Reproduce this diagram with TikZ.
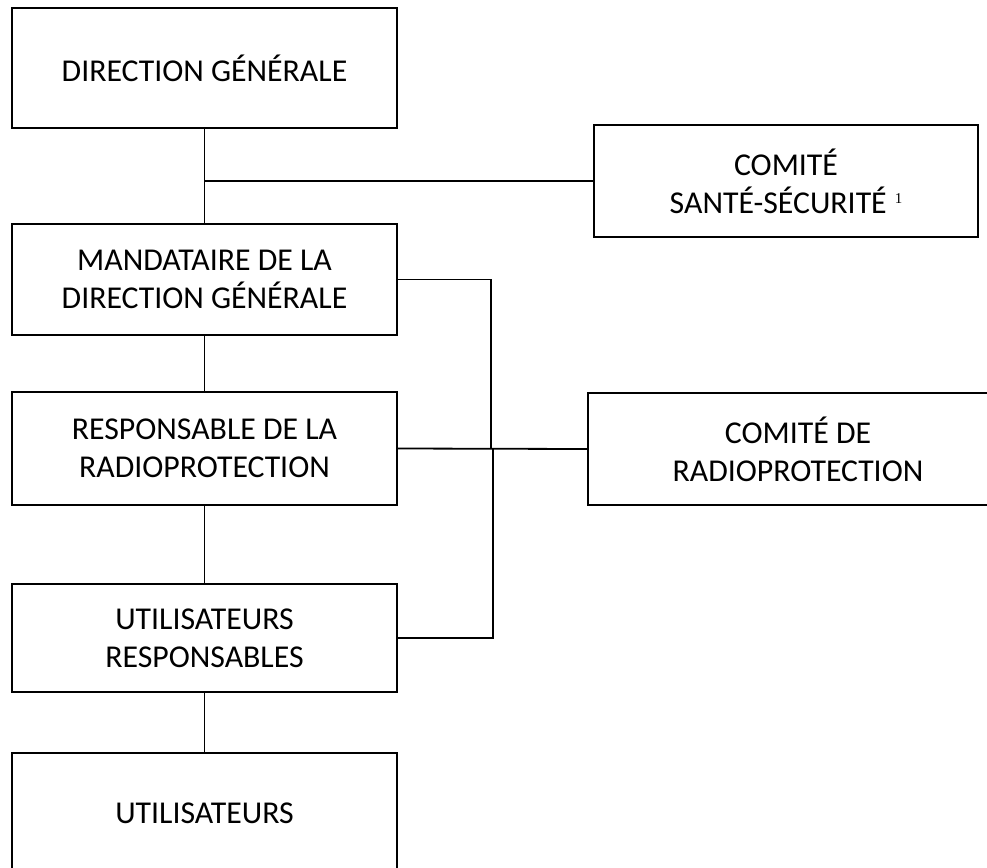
\documentclass[tikz,border=0pt]{standalone}
\usepackage{fontspec}
\setmainfont{Carlito}
\newfontfamily\notefont{Liberation Serif}
\begin{document}
\begin{tikzpicture}[x=1pt, y=-1pt, line width=1.8pt,
    box/.style={draw, line width=1.8pt, align=center, inner sep=0pt, minimum width=385pt, font=\fontsize{31.8}{38}\selectfont}]
    \useasboundingbox (0,0) rectangle (987,867);

    \node[box, minimum height=120pt] (dg) at (204.5,68) {DIRECTION GÉNÉRALE};
    \node[box, minimum width=384pt, minimum height=112pt] (css) at (786,181) {COMITÉ\\SANTÉ-SÉCURITÉ\hspace{8pt}\smash{\raisebox{10pt}{\notefont\fontsize{15}{15}\selectfont 1}}};
    \node[box, minimum height=111pt] (mdg) at (204.5,279.5) {MANDATAIRE DE LA\\DIRECTION GÉNÉRALE};
    \node[box, minimum height=113pt] (rrp) at (204.5,448.5) {RESPONSABLE DE LA\\RADIOPROTECTION};
    \node[box, minimum width=420pt, minimum height=112pt] (crp) at (798,449) {COMITÉ DE\\RADIOPROTECTION};
    \node[box, minimum height=108pt] (ur) at (204.5,638) {UTILISATEURS\\RESPONSABLES};
    \node[box, minimum height=120pt] (u) at (204.5,813) {UTILISATEURS};

    \coordinate (bus1) at (491,449);
    \coordinate (bus2) at (493,449);

    \draw (dg) -- (mdg);
    \draw (dg.south |- css.west) -- (css.west);
    \draw (mdg) -- (rrp);
    \draw (rrp) -- (ur);
    \draw (ur) -- (u);
    \draw (mdg.east) -| (bus1);
    \draw (rrp.east) -- (crp.west);
    \draw (bus2) |- (ur.east);
\end{tikzpicture}
\end{document}
